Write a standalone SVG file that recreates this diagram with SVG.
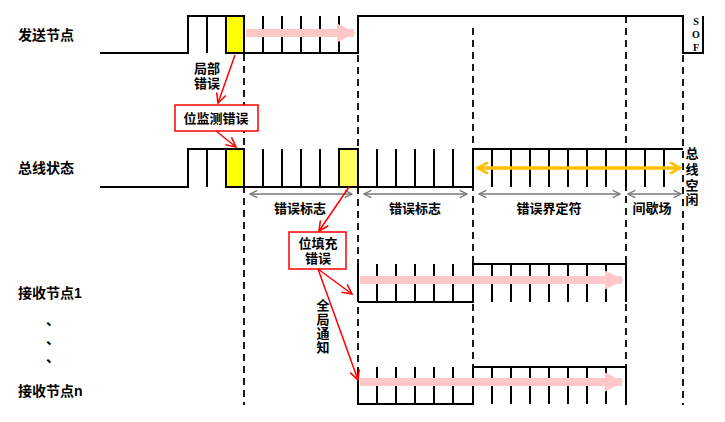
<svg xmlns="http://www.w3.org/2000/svg" width="725" height="422" viewBox="0 0 725 422">
<style>
.w{fill:none;stroke:#000;stroke-width:2}
.d{fill:none;stroke:#000;stroke-width:1.8;stroke-dasharray:7,5}
.t{font-family:"Liberation Sans","Noto Sans CJK SC",sans-serif;font-size:13px;font-weight:bold;fill:#000}
.lb{font-family:"Liberation Sans","Noto Sans CJK SC",sans-serif;font-size:14px;font-weight:bold;fill:#000}
.s{font-family:"Liberation Serif",serif;font-size:10px;font-weight:bold;fill:#000}
.r{fill:none;stroke:#ff0000;stroke-width:1.5}
.dim{fill:none;stroke:#777;stroke-width:1.3}
.pk{fill:none;stroke:#ffc8c8;stroke-width:8}
</style>
<defs>
<marker id="ra" viewBox="0 0 10 10" refX="9" refY="5" markerWidth="8" markerHeight="8" orient="auto"><path d="M1,1L9,5L1,9" fill="none" stroke="#f00" stroke-width="1.3"/></marker>
<marker id="ga" viewBox="0 0 10 10" refX="9" refY="5" markerWidth="7" markerHeight="7" orient="auto-start-reverse"><path d="M1,1L9,5L1,9" fill="none" stroke="#777" stroke-width="1.3"/></marker>
<marker id="oa" viewBox="0 0 10 10" refX="8" refY="5" markerWidth="4" markerHeight="4" orient="auto-start-reverse"><path d="M1,1L8,5L1,9" fill="none" stroke="#ffc000" stroke-width="2"/></marker>
<marker id="pa" viewBox="0 0 10 10" refX="9" refY="5" markerWidth="2.4" markerHeight="2.4" orient="auto"><path d="M0,0L10,5L0,10z" fill="#ffc8c8"/></marker>
</defs>
<g id="labels">
<text class="lb" x="18" y="40">发送节点</text>
<text class="lb" x="18" y="173">总线状态</text>
<text class="lb" x="18" y="298">接收节点1</text>
<text class="lb" x="18" y="396">接收节点n</text>
<text class="lb" x="46" y="325">、</text>
<text class="lb" x="46" y="344">、</text>
<text class="lb" x="46" y="362">、</text>
</g>
<g id="dashed">
<path class="d" d="M244,30V405M358,55V405M473,28V405M626,16V405M683,55V405"/>
</g>
<g id="sender">
<rect x="226" y="16" width="18" height="37" fill="#ffff00" stroke="#000" stroke-width="2"/>
<path class="w" d="M100,53H188V16H244M207,16V53M226,16V53M244,53H358V16H683V53H703V16M263,53V16M282,53V16M301,53V16M320,53V16M339,53V16"/>
<line class="pk" x1="246" y1="33" x2="354" y2="33" marker-end="url(#pa)"/>
<text class="s" x="696" y="25" text-anchor="middle">S</text>
<text class="s" x="696" y="38" text-anchor="middle">O</text>
<text class="s" x="696" y="51" text-anchor="middle">F</text>
</g>
<g id="bus">
<rect x="226" y="149" width="18" height="38" fill="#ffff00" stroke="#000" stroke-width="2"/>
<rect x="339" y="149" width="19" height="38" fill="#ffff60" stroke="#000" stroke-width="2"/>
<path class="w" d="M100,187H188V149H244M207,149V187M244,187H473V149H683M263,187V149M282,187V149M301,187V149M320,187V149M377,187V149M396,187V149M415,187V149M434,187V149M453,187V149M492,149V187M511,149V187M530,149V187M549,149V187M568,149V187M587,149V187M606,149V187M626,149V187M645,149V187M664,149V187"/>
<line x1="478" y1="168" x2="680" y2="168" stroke="#ffc000" stroke-width="3.5" marker-start="url(#oa)" marker-end="url(#oa)"/>
<text class="t" x="692" y="158" text-anchor="middle">总</text>
<text class="t" x="692" y="174" text-anchor="middle">线</text>
<text class="t" x="692" y="190" text-anchor="middle">空</text>
<text class="t" x="692" y="204" text-anchor="middle">闲</text>
</g>
<g id="fields">
<line class="dim" x1="250" y1="194" x2="352" y2="194" marker-start="url(#ga)" marker-end="url(#ga)"/>
<line class="dim" x1="364" y1="194" x2="467" y2="194" marker-start="url(#ga)" marker-end="url(#ga)"/>
<line class="dim" x1="479" y1="194" x2="620" y2="194" marker-start="url(#ga)" marker-end="url(#ga)"/>
<line class="dim" x1="628" y1="194" x2="681" y2="194" marker-start="url(#ga)" marker-end="url(#ga)"/>
<text class="t" x="300" y="213" text-anchor="middle">错误标志</text>
<text class="t" x="415" y="213" text-anchor="middle">错误标志</text>
<text class="t" x="549" y="213" text-anchor="middle">错误界定符</text>
<text class="t" x="652" y="213" text-anchor="middle">间歇场</text>
</g>
<g id="rx1">
<path class="w" d="M358,302H473V264H626V302M358,264V302M377,264V302M396,264V302M415,264V302M434,264V302M453,264V302M492,264V302M511,264V302M530,264V302M549,264V302M568,264V302M587,264V302M606,264V302"/>
<line class="pk" x1="360" y1="280" x2="622" y2="280" marker-end="url(#pa)"/>
</g>
<g id="rxn">
<path class="w" d="M358,404H473V367H626V404M358,367V404M377,367V404M396,367V404M415,367V404M434,367V404M453,367V404M492,367V404M511,367V404M530,367V404M549,367V404M568,367V404M587,367V404M606,367V404"/>
<line class="pk" x1="360" y1="382" x2="622" y2="382" marker-end="url(#pa)"/>
</g>
<g id="err1">
<rect x="175" y="105" width="83" height="26" fill="#fff" stroke="#f00" stroke-width="1.5"/>
<text class="t" x="216" y="123" text-anchor="middle">位监测错误</text>
<text class="t" x="207" y="73" text-anchor="middle">局部</text>
<text class="t" x="207" y="88" text-anchor="middle">错误</text>
</g>
<g id="err2">
<rect x="289" y="232" width="57" height="37" fill="#fff" stroke="#f00" stroke-width="1.5"/>
<text class="t" x="318" y="248" text-anchor="middle">位填充</text>
<text class="t" x="318" y="263" text-anchor="middle">错误</text>
<text class="t" x="323" y="310" text-anchor="middle">全</text>
<text class="t" x="323" y="324" text-anchor="middle">局</text>
<text class="t" x="323" y="338" text-anchor="middle">通</text>
<text class="t" x="323" y="352" text-anchor="middle">知</text>
</g>
<g id="connectors">
<line class="r" x1="235" y1="55" x2="218" y2="103" marker-end="url(#ra)"/>
<line class="r" x1="216" y1="131" x2="236" y2="147" marker-end="url(#ra)"/>
<line class="r" x1="349" y1="187" x2="319" y2="231" marker-end="url(#ra)"/>
<line class="r" x1="318" y1="269" x2="352" y2="294" marker-end="url(#ra)"/>
<line class="r" x1="318" y1="269" x2="358" y2="380" marker-end="url(#ra)"/>
</g>
</svg>
